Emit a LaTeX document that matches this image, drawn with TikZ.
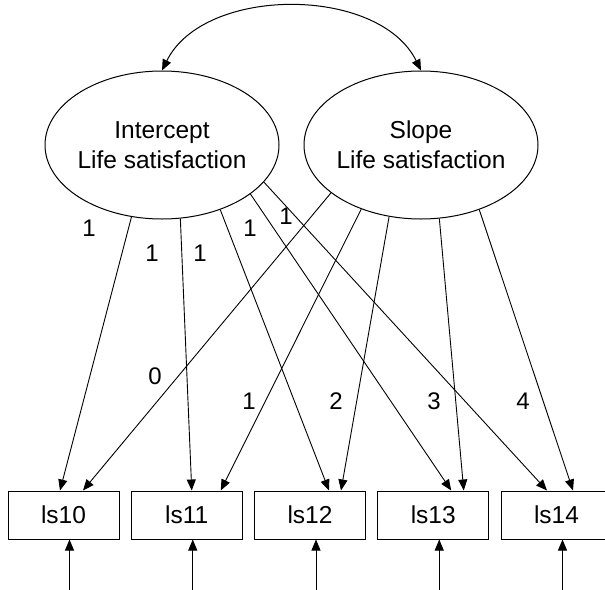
\documentclass[tikz,border=0pt]{standalone}
\usepackage{fontspec}
\setmainfont{Liberation Sans}
\usetikzlibrary{arrows.meta,shapes.geometric}
\begin{document}
\begin{tikzpicture}[x=1pt,y=-1pt,
  lat/.style={ellipse,draw,line width=1pt,minimum width=234pt,minimum height=148pt,inner sep=0pt},
  lattext/.style={align=center,inner sep=0pt,font=\fontsize{24.5}{30}\selectfont},
  obs/.style={rectangle,draw,line width=1pt,minimum width=111pt,minimum height=48pt,inner sep=0pt,font=\fontsize{24.5}{30}\selectfont},
  tip/.style={Triangle[length=11pt,width=9pt]},
  path/.style={line width=0.9pt,-{Triangle[length=11pt,width=9pt]}},
  coef/.style={inner sep=0pt,font=\fontsize{24}{29}\selectfont}]
\useasboundingbox (0,0) rectangle (605,589);

% latent variables
\node[lat] (int) at (162,145) {};
\node[lattext] (inttxt) at (162,145) {Intercept\\Life satisfaction};
\node[lat] (slo) at (421,145) {};
\node[lattext] (slotxt) at (421,145) {Slope\\Life satisfaction};

% covariance
\draw[line width=1pt,{Triangle[length=11pt,width=9pt]}-{Triangle[length=11pt,width=9pt]}]
  (int.north) .. controls +(42,-85) and +(-42,-85) .. (slo.north);

% observed variables
\node[obs] (b10) at (63.5,515) {ls10};
\node[obs] (b11) at (186.75,515) {ls11};
\node[obs] (b12) at (310,515) {ls12};
\node[obs] (b13) at (433.25,515) {ls13};
\node[obs] (b14) at (556.5,515) {ls14};

% intercept loadings
\draw[path] (int.247) -- ([xshift=-3.5pt]b10.north);
\draw[path] (int.284) -- ([xshift=5pt]b11.north);
\draw[path] (int.312) -- ([xshift=19pt]b12.north);
\draw[path] (int.331) -- ([xshift=18pt]b13.north);
\draw[path] (int.340) -- ([xshift=-9.5pt]b14.north);

% slope loadings
\draw[path] (slo.208) -- ([xshift=19.5pt]b10.north);
\draw[path] (slo.227) -- ([xshift=34pt]b11.north);
\draw[path] (slo.246) -- ([xshift=31pt]b12.north);
\draw[path] (slo.284) -- ([xshift=30.5pt]b13.north);
\draw[path] (slo.312) -- ([xshift=16.5pt]b14.north);

% residual arrows
\foreach \b in {b10,b11,b12,b13,b14}{
  \coordinate (u\b) at ([xshift=6pt,yshift=-50pt]\b.south);
  \draw[path] (u\b) -- ([xshift=6pt]\b.south);
}

% coefficients
\node[coef] (c1) at (89,228) {1};
\node[coef] (c2) at (152,253) {1};
\node[coef] (c3) at (200,253) {1};
\node[coef] (c4) at (250,228) {1};
\node[coef] (c5) at (286,216) {1};
\node[coef] (s0) at (155,376) {0};
\node[coef] (s1) at (249,401) {1};
\node[coef] (s2) at (336,401) {2};
\node[coef] (s3) at (434,401) {3};
\node[coef] (s4) at (523,401) {4};
\end{tikzpicture}
\end{document}
